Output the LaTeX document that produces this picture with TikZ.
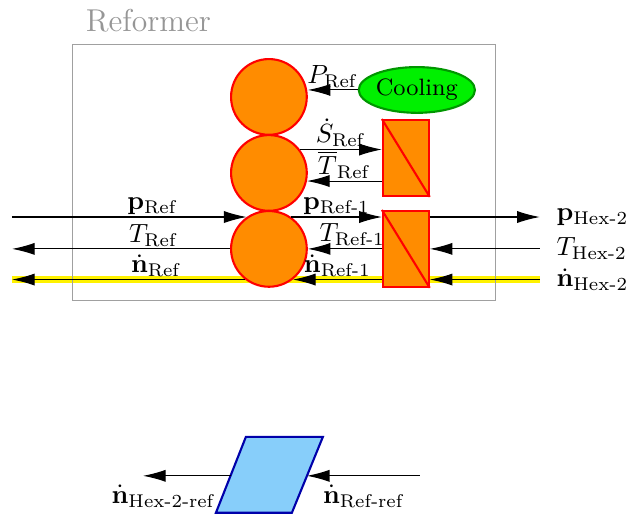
\documentclass[tikz,border=0pt]{standalone}
\usepackage{amsmath}
\usepackage{amssymb}
\usepackage{tikz}
\usetikzlibrary{calc,shapes,backgrounds,arrows.meta}

\definecolor{reforange}{RGB}{255,140,0}
\definecolor{coolgreen}{RGB}{0,240,0}
\definecolor{coolborder}{RGB}{0,150,0}
\definecolor{sepblue}{RGB}{135,206,250}
\definecolor{sepborder}{RGB}{0,0,170}
\definecolor{framegray}{RGB}{160,160,160}
\definecolor{titlegray}{RGB}{150,150,150}

\tikzset{
  flow/.style={-{Latex[length=8.6pt,width=4.6pt]}},
  mixer/.style={circle, draw=red, thick, fill=reforange, minimum size=1.01cm, inner sep=0pt},
  hex/.style={rectangle, draw=red, thick, fill=reforange, minimum width=0.61cm, minimum height=1.01cm, inner sep=0pt},
  lbl/.style={above=-2.5pt}
}

\begin{document}
\begin{tikzpicture}
\useasboundingbox (0,0) rectangle (8.43,6.88);
\draw[framegray] (0.973,2.867) rectangle (6.613,6.28);
\node[text=titlegray, font=\large] (title) at (1.98,6.61) {Reformer};
\coordinate (lft) at (0.16,0);
\coordinate (rgt) at (7.2,0);
\coordinate (bl) at (1.907,0);
\coordinate (br) at (5.6,0);
% units
\node[mixer] (c1) at (3.587,5.587) {};
\node[mixer] (c2) at (3.587,4.573) {};
\node[mixer] (c3) at (3.587,3.56) {};
\node[ellipse, draw=coolborder, thick, fill=coolgreen, minimum width=1.55cm, minimum height=0.61cm, inner sep=0pt, font=\small] (cool) at (5.56,5.68) {Cooling};
\node[hex] (h1) at (5.413,4.773) {};
\draw[red,thick] (h1.north west) -- (h1.south east);
\node[hex] (h2) at (5.413,3.56) {};
\draw[red,thick] (h2.north west) -- (h2.south east);
% separator
\draw[sepborder, thick, fill=sepblue] (2.88,0.04) -- (3.28,1.053) -- (4.307,1.053) -- (3.893,0.04) -- cycle;
\coordinate (sepw) at (3.075,0.533);
\coordinate (sepe) at (4.093,0.533);
% molar flow highlight
\begin{scope}[on background layer]
\draw[yellow, line width=2.8pt] (c3.-52 -| lft) -- (c3.-52 -| rgt);
\end{scope}
% streams inside
\draw[flow] (cool.west) -- (cool.west -| c1.east) node[midway,lbl] {$P_{\mathrm{Ref}}$};
\draw[flow] (c2.37) -- (c2.37 -| h1.west) node[midway,lbl] {$\dot{S}_{\mathrm{Ref}}$};
\draw[flow] (c2.-12 -| h1.west) -- (c2.-12) node[midway,lbl] {$\overline{T}_{\mathrm{Ref}}$};
\draw[flow] (c3.55) -- (c3.55 -| h2.west) node[midway,lbl] {$\mathbf{p}_{\text{Ref-1}}$};
\draw[flow] (h2.west) -- (c3.east) node[pos=0.4,lbl] {$T_{\text{Ref-1}}$};
\draw[flow] (c3.-52 -| h2.west) -- (c3.-52) node[midway,lbl] {$\dot{\mathbf{n}}_{\text{Ref-1}}$};
% streams left
\draw[flow] (c3.125 -| lft) -- (c3.125) node[pos=0.6,lbl] {$\mathbf{p}_{\mathrm{Ref}}$};
\draw[flow] (c3.west) -- (c3.west -| lft) node[pos=0.35,lbl] {$T_{\mathrm{Ref}}$};
\draw[flow] (c3.-128) -- (c3.-128 -| lft) node[pos=0.38,lbl] {$\dot{\mathbf{n}}_{\mathrm{Ref}}$};
% streams right
\draw[flow] (c3.55 -| h2.east) -- (c3.55 -| rgt) node[right=1mm] {$\mathbf{p}_{\text{Hex-2}}$};
\draw[flow] (h2.east -| rgt) node[right=1mm] {$T_{\text{Hex-2}}$} -- (h2.east);
\draw[flow] (c3.-52 -| rgt) node[right=1mm] {$\dot{\mathbf{n}}_{\text{Hex-2}}$} -- (c3.-52 -| h2.east);
% reference streams
\draw[flow] (sepw) -- (sepw -| bl) node[pos=0.77,below] {$\dot{\mathbf{n}}_{\text{Hex-2-ref}}$};
\draw[flow] (sepe -| br) -- (sepe) node[midway,below] {$\dot{\mathbf{n}}_{\text{Ref-ref}}$};
\end{tikzpicture}
\end{document}
